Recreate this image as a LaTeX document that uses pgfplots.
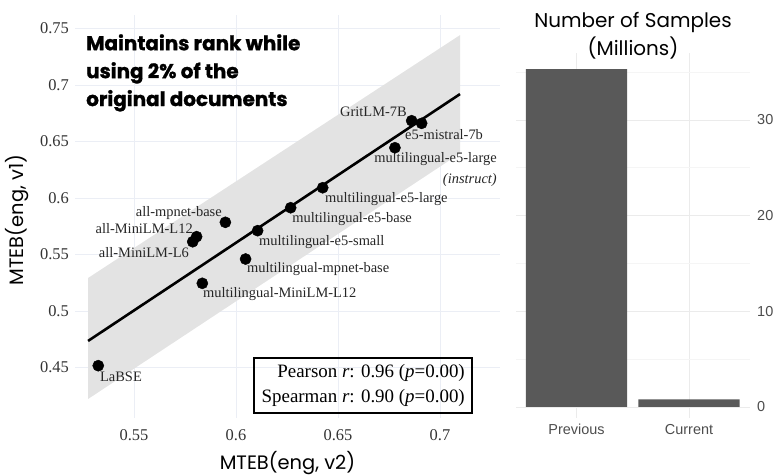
\documentclass[border=0pt]{standalone}
\usepackage{fontspec}
\setmainfont{Liberation Serif}
\newfontfamily\pop{Poppins}
\newfontfamily\popheavy{Poppins}[BoldFeatures={FakeBold=1.2}]
\newfontfamily\arial{Liberation Sans}
\usepackage{pgfplots}
\pgfplotsset{compat=1.18}
\definecolor{gridl}{HTML}{EBEEF5}
\definecolor{gridr}{HTML}{EBEBEB}
\definecolor{gridm}{HTML}{F5F5F5}
\definecolor{band}{HTML}{E3E3E3}
\definecolor{barc}{HTML}{595959}
\definecolor{tickl}{HTML}{333333}
\definecolor{tickr}{HTML}{4D4D4D}

\begin{document}
\begin{tikzpicture}[x=1bp,y=1bp,
  lab/.style={font=\fontsize{14.5}{14.5}\selectfont, text=black!85, inner sep=0pt}]
\useasboundingbox (0,0) rectangle (775,476);

% left: MTEB v1 vs v2
\begin{axis}[
  at={(75bp,58bp)}, anchor=south west,
  scale only axis, width=425bp, height=403bp,
  xmin=0.5211, xmax=0.7294, ymin=0.4053, ymax=0.762,
  axis line style={draw=none}, major tick length=0pt, minor tick length=0pt,
  xtick={0.55,0.6,0.65,0.7}, xticklabels={0.55,0.6,0.65,0.7},
  ytick={0.45,0.5,0.55,0.6,0.65,0.7,0.75},
  yticklabels={0.45,0.5,0.55,0.6,0.65,0.7,0.75},
  grid=major, grid style={gridl, line width=0.9bp},
  tick label style={font=\fontsize{16.5}{16.5}\selectfont, text=tickl, inner sep=0pt},
  xticklabel style={yshift=-11bp},
  yticklabel style={xshift=-6bp},
  xlabel={MTEB(eng, v2)}, ylabel={MTEB(eng, v1)},
  label style={font=\pop\fontsize{19.5}{19.5}\selectfont},
  xlabel style={at={(axis description cs:0.5,-0.113)}, anchor=center},
  ylabel style={at={(axis description cs:-0.136,0.491)}, anchor=center},
  clip=false,
]
% confidence band
\addplot[fill=band, draw=none] coordinates {
  (0.5275,0.4221) (0.7098,0.6395) (0.7098,0.7442) (0.5275,0.5292)} -- cycle;
% fitted line
\addplot[black, line width=2.6bp] coordinates {(0.5275,0.4735) (0.7098,0.6920)};
% models
\addplot[only marks, mark=*, mark size=5.6bp, black] coordinates {
  (0.6861,0.6684) (0.6910,0.6661) (0.6779,0.6445) (0.6425,0.6091)
  (0.6268,0.5914) (0.6106,0.5711) (0.5948,0.5785) (0.5807,0.5658)
  (0.5788,0.5613) (0.6047,0.5460) (0.5835,0.5245) (0.5325,0.4516)};

\node[lab, anchor=east] at (axis cs:0.6838,0.6761) {GritLM-7B};
\node[lab, anchor=west] at (axis cs:0.6828,0.6566) {e5-mistral-7b};
\node[lab, anchor=east] at (axis cs:0.7279,0.6345) {multilingual-e5-large};
\node[lab, anchor=east] at (axis cs:0.7279,0.6159) {\textit{(instruct)}};
\node[lab, anchor=west] at (axis cs:0.6436,0.5991) {multilingual-e5-large};
\node[lab, anchor=west] at (axis cs:0.6275,0.5814) {multilingual-e5-base};
\node[lab, anchor=west] at (axis cs:0.6113,0.5611) {multilingual-e5-small};
\node[lab, anchor=east] at (axis cs:0.5931,0.5867) {all-mpnet-base};
\node[lab, anchor=east] at (axis cs:0.5789,0.5726) {all-MiniLM-L12};
\node[lab, anchor=east] at (axis cs:0.5770,0.5513) {all-MiniLM-L6};
\node[lab, anchor=west] at (axis cs:0.6054,0.5372) {multilingual-mpnet-base};
\node[lab, anchor=west] at (axis cs:0.5838,0.5150) {multilingual-MiniLM-L12};
\node[lab, anchor=west] at (axis cs:0.5333,0.4416) {LaBSE};

\node[anchor=north west, align=left, inner sep=0pt,
  font=\popheavy\bfseries\fontsize{20}{28}\selectfont]
  at (axis cs:0.5265,0.7451) {Maintains rank while\\using 2\% of the\\original documents};

\node[draw=black, line width=1.6bp, align=right, anchor=south east,
  inner xsep=7.5bp, inner ysep=6.5bp, font=\fontsize{19}{25}\selectfont]
  at (axis cs:0.7162,0.4088)
  {Pearson \textit{r}: 0.96 (\textit{p}=0.00)\\Spearman \textit{r}: 0.90 (\textit{p}=0.00)};
\end{axis}

% right: number of samples
\begin{axis}[
  at={(516bp,58bp)}, anchor=south west,
  scale only axis, width=234bp, height=365bp,
  xmin=0.462, xmax=2.542, ymin=-1.15, ymax=37.0,
  ybar, bar width=0.9,
  axis line style={draw=none}, major tick length=0pt, minor tick length=0pt,
  xtick={1,2}, xticklabels={Previous,Current},
  ytick={0,10,20,30}, yticklabels={0,10,20,30},
  minor ytick={5,15,25,35},
  yticklabel pos=right,
  grid=both, grid style={gridr, line width=0.9bp},
  minor grid style={gridm, line width=0.7bp},
  tick label style={font=\arial\fontsize{14.5}{14.5}\selectfont, text=tickr, inner sep=0pt},
  xticklabel style={yshift=-6bp},
  yticklabel style={xshift=7bp, anchor=west},
  title={Number of Samples\\(Millions)},
  title style={align=center, font=\pop\fontsize{20}{28}\selectfont,
    at={(axis description cs:0.5,1)}, anchor=center, yshift=11bp},
]
\addplot[fill=barc, draw=none] coordinates {(1,35.3) (2,0.8)};
\end{axis}
\end{tikzpicture}
\end{document}
